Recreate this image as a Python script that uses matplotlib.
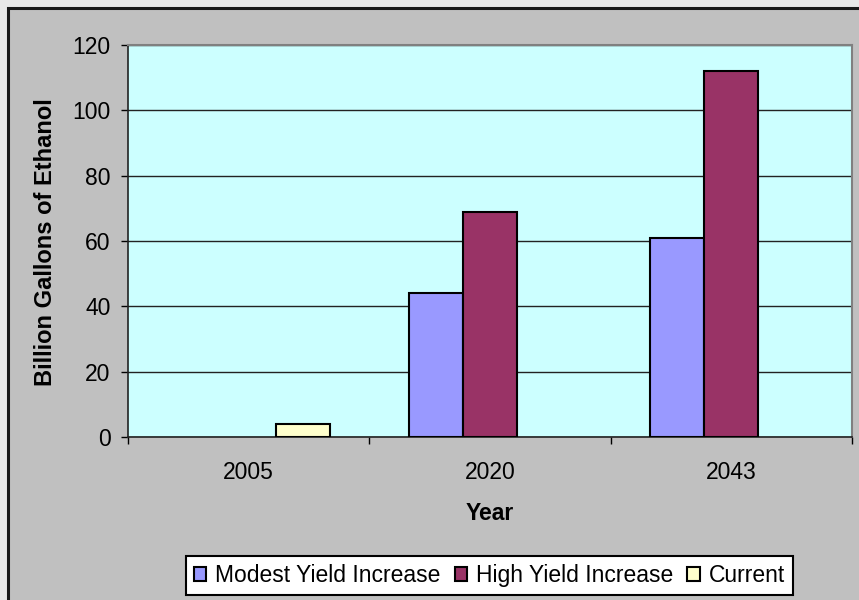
import numpy as np
import matplotlib
matplotlib.use("Agg")
import matplotlib.pyplot as plt
from matplotlib.patches import Rectangle

plt.rcParams['font.family'] = ['Liberation Sans', 'DejaVu Sans']

# Data
years = ["2005", "2020", "2043"]
modest_yield = [np.nan, 44, 61]
high_yield = [np.nan, 69, 112]
current = [4, np.nan, np.nan]
series_names = ["Modest Yield Increase", "High Yield Increase", "Current"]
y_ticks = [0, 20, 40, 60, 80, 100, 120]

colors = ["#9999FF", "#993366", "#FFFFCC"]

W, H = 859, 600
fig = plt.figure(figsize=(W / 100, H / 100), dpi=100)
fig.patch.set_facecolor("#E9E9E9")

# Chart area panel (extends past the right and bottom edges)
panel = Rectangle((7.5 / W, -0.05), 1.1, 1 - 7.5 / H + 0.05,
                  transform=fig.transFigure, facecolor="#C0C0C0",
                  edgecolor="#1a1a1a", linewidth=2.2, zorder=-10)
fig.patches.append(panel)

ax = fig.add_axes([128 / W, 1 - 437 / H, (852 - 128) / W, (437 - 45) / H])
ax.set_facecolor("#CCFFFF")

x = np.arange(len(years))
bw = 0.224
for i, (vals, name, c) in enumerate(zip([modest_yield, high_yield, current], series_names, colors)):
    ax.bar(x + (i - 1) * bw, vals, width=bw, color=c, edgecolor="black",
           linewidth=1.5, label=name, zorder=3)

ax.set_xlim(-0.5, 2.5)
ax.set_ylim(0, 120)
ax.set_yticks(y_ticks)
ax.yaxis.grid(True, color="#222222", linewidth=1.0, zorder=1)
ax.set_axisbelow(True)

ax.tick_params(axis="y", direction="out", length=5, width=1, pad=7.5,
               labelsize=16.5, colors="black")
ax.set_xticks(x)
ax.set_xticklabels(years)
ax.tick_params(axis="x", which="major", length=0, pad=17, labelsize=16.5)
ax.set_xticks([-0.5, 0.5, 1.5, 2.5], minor=True)
ax.tick_params(axis="x", which="minor", direction="out", length=5, width=1)

for side in ["left", "bottom"]:
    ax.spines[side].set_color("#222222")
    ax.spines[side].set_linewidth(1.2)
for side in ["top", "right"]:
    ax.spines[side].set_color("#808080")
    ax.spines[side].set_linewidth(1.5)

fig.text(46 / W, 1 - 242 / H, "Billion Gallons of Ethanol", rotation=90,
         ha="center", va="center", fontsize=17, fontweight="bold")
fig.text(490 / W, 1 - 520 / H, "Year", ha="center", va="baseline",
         fontsize=16.5, fontweight="bold")

leg = fig.legend(loc="center", bbox_to_anchor=(489.5 / W, 1 - 575.5 / H),
                 ncol=3, fontsize=16.5, frameon=True, fancybox=False,
                 edgecolor="black", facecolor="white", framealpha=1,
                 handlelength=0.55, handleheight=0.6, handletextpad=0.4,
                 columnspacing=0.6, borderpad=0.35, borderaxespad=0)
leg.get_frame().set_linewidth(1.5)

fig.savefig("out.png", dpi=100, facecolor=fig.get_facecolor())
